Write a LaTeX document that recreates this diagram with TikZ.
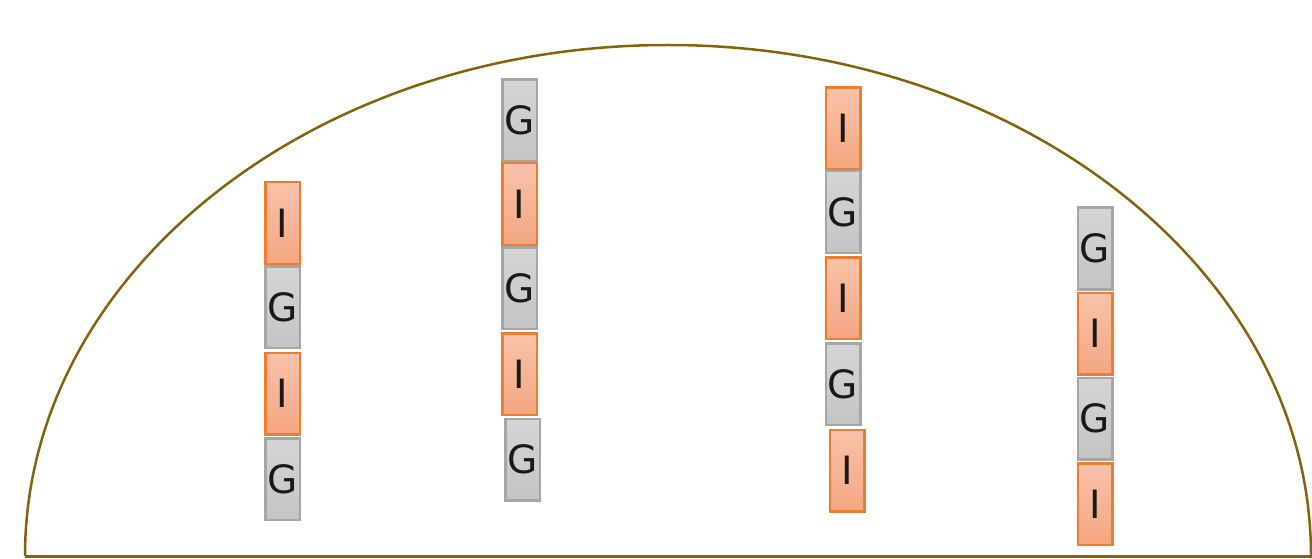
\documentclass[tikz,border=0pt]{standalone}
\usepackage{fontspec}
\setmainfont{DejaVu Sans}
\definecolor{arcc}{RGB}{133,99,12}
\definecolor{ibord}{RGB}{237,125,49}
\definecolor{itop}{RGB}{248,194,170}
\definecolor{ibot}{RGB}{244,166,128}
\definecolor{gbord}{RGB}{166,166,166}
\definecolor{gtop}{RGB}{213,213,213}
\definecolor{gbot}{RGB}{196,196,196}
\tikzset{
  cell/.style={rectangle, minimum width=34.5pt, minimum height=81.5pt, line width=2.5pt, inner sep=0pt,
    font=\fontsize{39}{42}\selectfont, text=black!90},
  ibox/.style={cell, draw=ibord, top color=itop, bottom color=ibot},
  gbox/.style={cell, draw=gbord, top color=gtop, bottom color=gbot},
}
\begin{document}
\begin{tikzpicture}[x=1pt,y=1pt]
\useasboundingbox (0,0) rectangle (1312,558);
\begin{scope}
\clip (0,0) rectangle (1312,558);
\draw[arcc, line width=2.5pt] (25,2) arc[start angle=180, end angle=0, x radius=643, y radius=511];
\draw[arcc, line width=3pt] (25,2) -- (1320,2);
\end{scope}
% column 1
\node[ibox] (a1) at (282.5,335) {I};
\node[gbox] (a2) at (282.5,251) {G};
\node[ibox] (a3) at (282.5,164.5) {I};
\node[gbox] (a4) at (282.5,79) {G};
% column 2
\node[gbox] (b1) at (519.5,437.5) {G};
\node[ibox] (b2) at (519.5,354) {I};
\node[gbox] (b3) at (519.5,270) {G};
\node[ibox] (b4) at (519.5,184) {I};
\node[gbox] (b5) at (522.5,98.5) {G};
% column 3
\node[ibox] (c1) at (843,429.5) {I};
\node[gbox] (c2) at (843,346) {G};
\node[ibox] (c3) at (843,260) {I};
\node[gbox] (c4) at (843,174) {G};
\node[ibox] (c5) at (847,87.5) {I};
% column 4
\node[gbox] (d1) at (1095,309.5) {G};
\node[ibox] (d2) at (1095,224.5) {I};
\node[gbox] (d3) at (1095,139.5) {G};
\node[ibox] (d4) at (1095,54) {I};
\end{tikzpicture}
\end{document}
